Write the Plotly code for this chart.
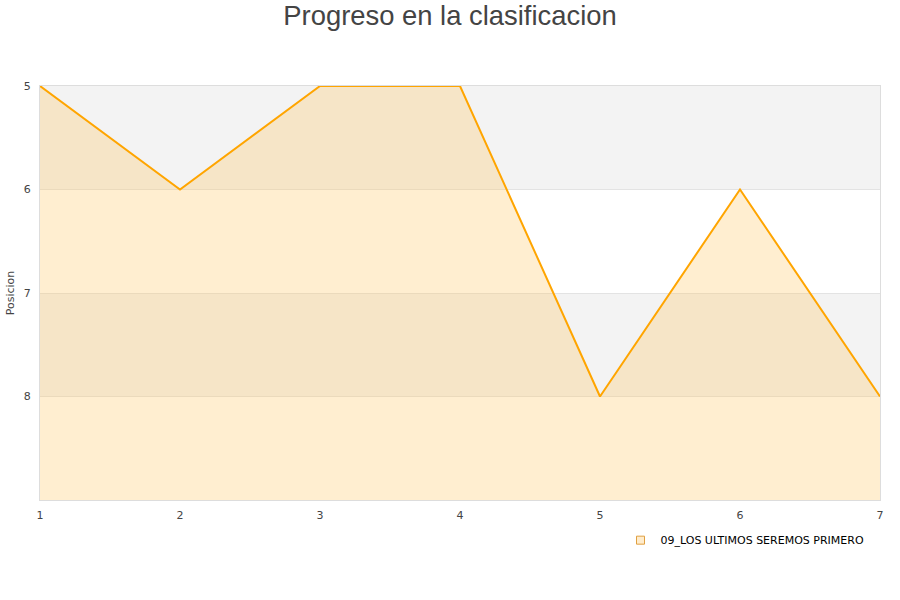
import plotly.graph_objects as go

jornadas = [1, 2, 3, 4, 5, 6, 7]
posiciones = [5, 6, 5, 5, 8, 6, 8]
equipo = "09_LOS ULTIMOS SEREMOS PRIMERO"
y_ticks = [5, 6, 7, 8]
y_bottom = 9

fig = go.Figure()

# baseline for the fill (bottom of the reversed axis)
fig.add_trace(go.Scatter(
    x=jornadas, y=[y_bottom] * len(jornadas),
    mode='lines', line=dict(width=0), showlegend=False, hoverinfo='skip'
))
fig.add_trace(go.Scatter(
    x=jornadas, y=posiciones,
    mode='lines', fill='tonexty',
    fillcolor='rgba(255,200,100,0.3)',
    line=dict(color='#ffa500', width=2),
    showlegend=False, name=equipo
))
# legend entry
fig.add_trace(go.Scatter(
    x=[None], y=[None], mode='markers', name=equipo,
    marker=dict(symbol='square', size=8, color='#ffeccc',
                line=dict(color='#e0a040', width=1))
))

# alternating bands
for i, lo in enumerate(y_ticks):
    if i % 2 == 0:
        fig.add_shape(type='rect', xref='paper', yref='y', x0=0, x1=1,
                      y0=lo, y1=lo + 1, fillcolor='#f3f3f3',
                      line=dict(width=0), layer='below')

fig.update_layout(
    title=dict(text='Progreso en la clasificacion', x=0.5, xanchor='center',
               y=0.975, yanchor='middle', yref='container',
               font=dict(size=27.4, color='#444', family='Liberation Sans')),
    width=900, height=600,
    margin=dict(l=40, r=20, t=86, b=100),
    paper_bgcolor='white', plot_bgcolor='white',
    font=dict(family='DejaVu Sans', size=11, color='#444'),
    showlegend=True,
    legend=dict(x=0.9875, y=-0.062, xanchor='right', yanchor='top',
                font=dict(size=11, color='#000'), bgcolor='rgba(0,0,0,0)'),
    xaxis=dict(range=[1, 7], tickvals=jornadas, showgrid=False,
               zeroline=False, showline=True, linecolor='#ddd', mirror=True,
               ticks='', ticklabelstandoff=5, tickfont=dict(size=11),
               automargin=False),
    yaxis=dict(range=[y_bottom, 5], tickvals=y_ticks, showgrid=True,
               gridcolor='#e3e3e3', zeroline=False, showline=True,
               linecolor='#ddd', mirror=True, ticks='', ticklabelstandoff=6,
               title=dict(text='Posicion', font=dict(size=11), standoff=6),
               tickfont=dict(size=11), automargin=False),
)

# drop the default page margin so the figure sits at the window corner
fig.write_html("out.html", config={'displayModeBar': False},
               post_script="document.body.style.margin='0';")
